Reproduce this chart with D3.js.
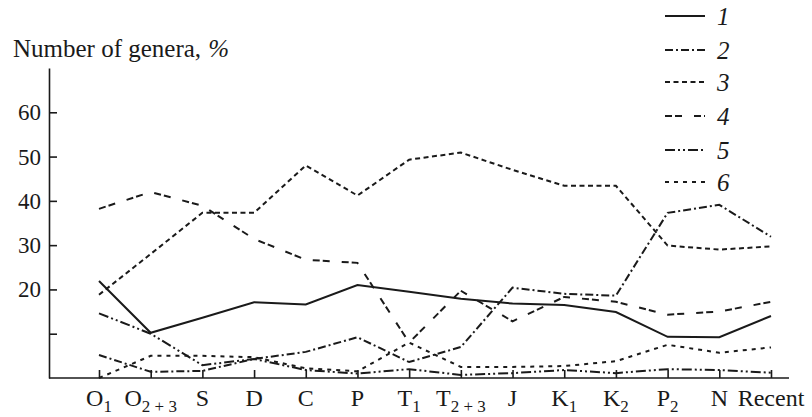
<!DOCTYPE html>
<html><head><meta charset="utf-8">
<script src="https://cdn.jsdelivr.net/npm/d3@7"></script>
<style>body{margin:0;background:#fff} svg{display:block}</style>
</head><body><svg id="c" width="812" height="417"></svg>
<script>
const categories = ["O1","O2+3","S","D","C","P","T1","T2+3","J","K1","K2","P2","N","Recent"];
const labelMain = ["O","O","S","D","C","P","T","T","J","K","K","P","N","Recent"];
const labelSub  = ["1","2 + 3","","","","","1","2 + 3","","1","2","2","",""];

const s1 = [21.9,10.2,13.6,17.1,16.6,21.0,19.5,17.9,16.8,16.5,14.9,9.3,9.2,14.0];
const s2 = [5.2,1.4,1.6,4.3,5.9,9.2,3.6,7.0,20.4,19.0,18.6,37.3,39.1,31.9];
const s3 = [18.8,28.0,37.3,37.3,48.0,41.2,49.3,50.9,47.0,43.4,43.4,29.9,29.0,29.7];
const s4 = [38.2,42.0,38.9,31.4,26.7,26.0,8.0,19.7,12.8,18.3,17.2,14.3,15.0,17.2];
const s5 = [14.6,10.0,2.9,4.3,1.8,1.0,2.0,0.7,1.1,1.8,1.1,2.0,1.8,1.2];
const s6 = [0.0,5.0,5.0,4.7,2.2,1.5,8.0,2.5,2.5,2.7,3.8,7.5,5.7,6.9];

const seriesNames = ["1","2","3","4","5","6"];
const yTicks = [10,20,30,40,50,60];
const yTickLabels = ["","20","30","40","50","60"];
const titleText = "Number of genera,";
const titleUnit = "%";

const allSeries = [s1,s2,s3,s4,s5,s6];
const dashes = ["none","8,3,2,3","5,3.5","7,3,7,12","10,3,2,3,2,3","4,5"];
const ink = "#1a1a1a";
const FF = '"Liberation Serif"';

const svg = d3.select("#c");
const x = d3.scalePoint().domain(categories).range([99,771]);
const y = d3.scaleLinear().domain([0,70]).range([378,68]);

function txt(parent, xx, yy, s, size){
  return parent.append("text").attr("x",xx).attr("y",yy)
    .style("font-family",FF).attr("font-size",size).attr("fill",ink).text(s);
}

// y axis
const ya = svg.append("g").attr("transform","translate(49,0)")
  .call(d3.axisLeft(y).tickValues(yTicks).tickSize(-8).tickSizeOuter(0).tickFormat(""));
ya.selectAll("line,path").attr("stroke",ink).attr("stroke-width",1.6);
yTicks.forEach((v,i)=>{
  if(yTickLabels[i]) txt(svg, 41, y(v)+8, yTickLabels[i], 23).attr("text-anchor","end");
});

// x axis
const xa = svg.append("g").attr("transform","translate(0,378)")
  .call(d3.axisBottom(x).tickSize(-8).tickSizeOuter(0).tickFormat(""));
xa.select(".domain").remove();
xa.selectAll("line").attr("stroke",ink).attr("stroke-width",1.6);
svg.append("line").attr("x1",49).attr("x2",789).attr("y1",378).attr("y2",378)
  .attr("stroke",ink).attr("stroke-width",1.6);

// x labels
categories.forEach((c,i)=>{
  const cx = x(c);
  if(labelSub[i]){
    const m = txt(svg, 0, 406, labelMain[i], 24);
    const sb = txt(svg, 0, 412, labelSub[i], 17);
    const w1 = m.node().getComputedTextLength(), w2 = sb.node().getComputedTextLength();
    const x0 = cx - (w1+w2)/2;
    m.attr("x", x0); sb.attr("x", x0 + w1);
  } else {
    txt(svg, cx, 406, labelMain[i], 24).attr("text-anchor","middle");
  }
});

// title
const t1 = txt(svg, 13, 57, titleText, 25);
const tw = t1.node().getComputedTextLength();
txt(svg, 13 + tw + 7, 57, titleUnit, 25).style("font-style","italic");

// lines
const line = d3.line().x((d,i)=>x(categories[i])).y(d=>y(d));
allSeries.forEach((s,k)=>{
  svg.append("path").datum(s).attr("d",line).attr("fill","none")
    .attr("stroke",ink).attr("stroke-width",2)
    .attr("stroke-dasharray",dashes[k]==="none"?null:dashes[k]);
});

// legend
const legY = [16,50,82,116,150,182];
seriesNames.forEach((n,k)=>{
  svg.append("line").attr("x1",665).attr("x2",705).attr("y1",legY[k]).attr("y2",legY[k])
    .attr("stroke",ink).attr("stroke-width",2)
    .attr("stroke-dasharray",dashes[k]==="none"?null:dashes[k]);
  txt(svg, 717, legY[k]+9, n, 25).style("font-style","italic");
});
</script></body></html>
